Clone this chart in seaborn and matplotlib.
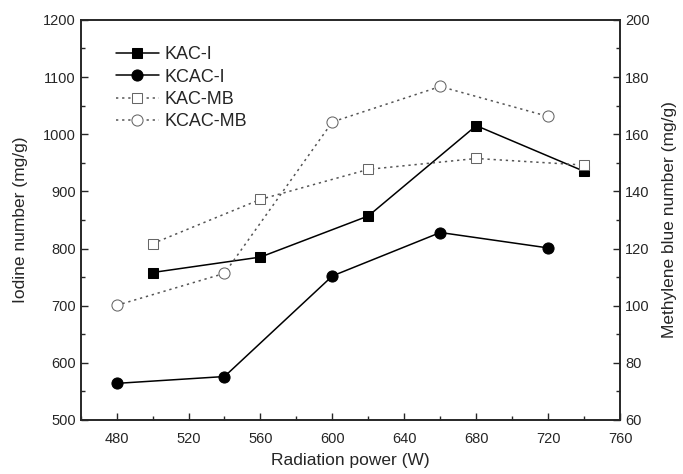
import pandas as pd
import seaborn as sns
from matplotlib import pyplot as plt
from matplotlib.ticker import MultipleLocator

power_a = [500, 560, 620, 680, 740]
power_b = [480, 540, 600, 660, 720]
kac_i = [758, 785, 857, 1015, 935]
kcac_i = [564, 576, 752, 828, 801]
kac_mb = [121.7, 137.2, 147.7, 151.5, 149.2]
kcac_mb = [100.1, 111.3, 164.3, 176.7, 166.2]

sns.set_style("ticks")
plt.rcParams["font.family"] = ["Liberation Sans", "DejaVu Sans"]
plt.rcParams["xtick.direction"] = "in"
plt.rcParams["ytick.direction"] = "in"

fig = plt.figure(figsize=(6.83, 4.74), dpi=100)
ax = fig.add_axes([0.118, 0.114, 0.79, 0.844])
ax2 = ax.twinx()

df_a = pd.DataFrame({"power": power_a, "iodine": kac_i, "mb": kac_mb})
df_b = pd.DataFrame({"power": power_b, "iodine": kcac_i, "mb": kcac_mb})

sns.lineplot(data=df_a, x="power", y="iodine", ax=ax, color="black", lw=1.1,
             marker="s", markersize=7, markeredgecolor="black", label="KAC-I",
             legend=False)
sns.lineplot(data=df_b, x="power", y="iodine", ax=ax, color="black", lw=1.1,
             marker="o", markersize=8, markeredgecolor="black", label="KCAC-I",
             legend=False)
sns.lineplot(data=df_a, x="power", y="mb", ax=ax2, color="#555555", lw=1.1,
             linestyle=(0, (1.5, 2.5)), marker="s", markersize=7,
             markerfacecolor="white", markeredgecolor="#666666", label="KAC-MB",
             legend=False)
sns.lineplot(data=df_b, x="power", y="mb", ax=ax2, color="#555555", lw=1.1,
             linestyle=(0, (1.5, 2.5)), marker="o", markersize=8,
             markerfacecolor="white", markeredgecolor="#666666", label="KCAC-MB",
             legend=False)

ax.set_xlim(460, 760)
ax.set_ylim(500, 1200)
ax2.set_ylim(60, 200)
ax.xaxis.set_major_locator(MultipleLocator(40))
ax.xaxis.set_minor_locator(MultipleLocator(20))
ax.yaxis.set_major_locator(MultipleLocator(100))
ax.yaxis.set_minor_locator(MultipleLocator(50))
ax2.yaxis.set_major_locator(MultipleLocator(20))
ax2.yaxis.set_minor_locator(MultipleLocator(10))

for a in (ax, ax2):
    a.tick_params(which="major", length=5, width=1, labelsize=10.5)
    a.tick_params(which="minor", length=3, width=1)
    for s in a.spines.values():
        s.set_linewidth(1.2)
ax.tick_params(axis="x", top=False, which="both")
ax.tick_params(axis="x", which="major", pad=9)

ax.set_xlabel("Radiation power (W)", fontsize=12.5, labelpad=5)
ax.set_ylabel("Iodine number (mg/g)", fontsize=12.5, labelpad=11)
ax2.set_ylabel("Methylene blue number (mg/g)", fontsize=12.5, labelpad=9)

h1, l1 = ax.get_legend_handles_labels()
h2, l2 = ax2.get_legend_handles_labels()
ax.legend(h1 + h2, l1 + l2, loc="upper left", bbox_to_anchor=(0.035, 0.975),
          frameon=False, fontsize=13, handlelength=2.4, labelspacing=0.3,
          handletextpad=0.3)

fig.savefig("out.png", dpi=100)
